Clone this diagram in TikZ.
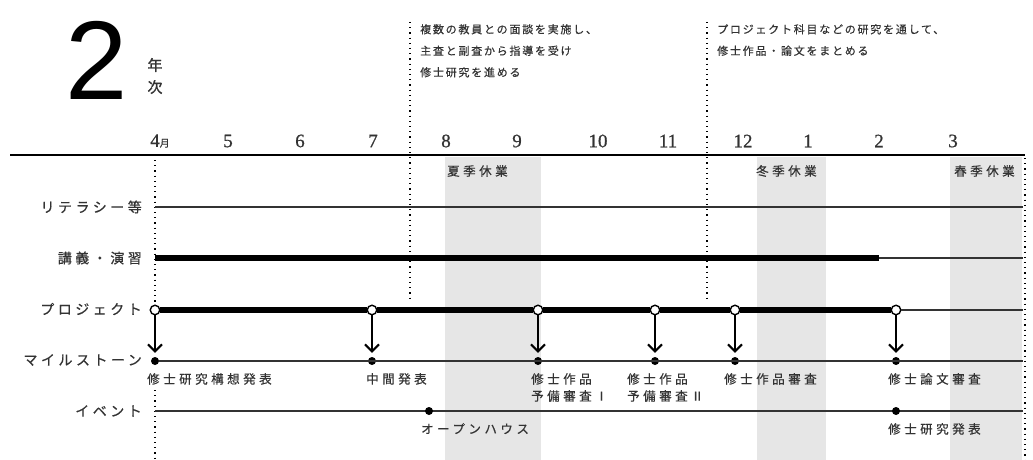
\documentclass[tikz,border=0pt]{standalone}
\usepackage{fontspec}
\setmainfont{Liberation Serif}
\newfontfamily\jp[FakeBold=1.5]{Noto Sans CJK JP}
\newfontfamily\jpm[FakeBold=0.6]{Noto Sans CJK JP}
\newfontfamily\jprow[LetterSpace=25,FakeBold=0.6]{Noto Sans CJK JP}
\newfontfamily\jpms[LetterSpace=28,FakeBold=0.5]{Noto Sans CJK JP}
\newfontfamily\jptop[LetterSpace=16,FakeBold=0.4]{Noto Sans CJK JP}
\newfontfamily\numf[FakeBold=0.8]{Liberation Serif}
\newfontfamily\bigf{Liberation Sans}
\usetikzlibrary{arrows.meta}
\definecolor{txt}{HTML}{333333}
\definecolor{holgray}{HTML}{E6E6E6}
\definecolor{ln}{HTML}{333333}
\tikzset{
  rowlabel/.style={anchor=east, inner sep=0pt, text=txt, font={\fontsize{14}{16}\selectfont\jprow}},
  mslabel/.style={anchor=north west, inner sep=0pt, align=left, text=txt, font={\fontsize{12.5}{17}\selectfont\jpms}},
  toplabel/.style={anchor=north west, inner sep=0pt, align=left, text=txt, font={\fontsize{11}{21.5}\selectfont\jptop}},
  month/.style={inner sep=0pt, text=txt, font={\fontsize{19}{21}\selectfont\numf}},
  holiday/.style={anchor=west, inner sep=0pt, text=txt, font={\fontsize{12.5}{14}\selectfont\jpms}},
  thinrow/.style={line width=1.3pt, draw=ln},
  thickrow/.style={line width=5.5pt, draw=black},
  sep/.style={line width=1.2pt, dash pattern=on 1.2pt off 4pt, draw=black},
  pcircle/.style={circle, draw=black, fill=white, line width=1.4pt, minimum size=9.5pt, inner sep=0pt},
  mdot/.style={circle, fill=black, minimum size=8pt, inner sep=0pt},
  down/.style={line width=2pt, -{Straight Barb[length=7pt,width=14pt,line width=2pt]}},
}
\begin{document}
\begin{tikzpicture}[x=1pt,y=-1pt]
\useasboundingbox (0,0) rectangle (1033,460);
% holiday shading
\fill[holgray] (445,157) rectangle (541,460);
\fill[holgray] (757,157) rectangle (826,460);
\fill[holgray] (950,157) rectangle (1022,460);
% title
\node[inner sep=0pt, anchor=center, text=black, font={\fontsize{112}{112}\selectfont\bigf}] (two) at (97,60) {2};
\node[inner sep=0pt, text=txt, align=center, font={\fontsize{15}{22}\selectfont\jp}] (nenji) at (155,76) {年\\次};
% top texts
\node[toplabel] (t1) at (420,24) {複数の教員との面談を実施し、\\主査と副査から指導を受け\\修士研究を進める};
\node[toplabel] (t2) at (717,24) {プロジェクト科目などの研究を通して、\\修士作品・論文をまとめる};
% months
\node[month] (m4) at (160,141) {4{\jpm\fontsize{10}{12}\selectfont 月}};
\node[month] (m5) at (228,141) {5};
\node[month] (m6) at (300,141) {6};
\node[month] (m7) at (373,141) {7};
\node[month] (m8) at (446,141) {8};
\node[month] (m9) at (517,141) {9};
\node[month] (m10) at (598,141) {10};
\node[month] (m11) at (668,141) {11};
\node[month] (m12) at (743,141) {12};
\node[month] (m1) at (808,141) {1};
\node[month] (m2) at (879,141) {2};
\node[month] (m3) at (953,141) {3};
% header line
\coordinate (hl) at (10,155);
\coordinate (hr) at (1025,155);
\draw[line width=1.5pt, black] (hl) -- (hr);
% dotted separators
\coordinate (s1a) at (155,160); \coordinate (s1b) at (155,304);
\coordinate (s1c) at (155,390); \coordinate (s1d) at (155,460);
\draw[sep] (s1a) -- (s1b);
\draw[sep] (s1c) -- (s1d);
\coordinate (s2a) at (410,22); \coordinate (s2b) at (410,302);
\draw[sep] (s2a) -- (s2b);
\coordinate (s3a) at (707,22); \coordinate (s3b) at (707,302);
\draw[sep] (s3a) -- (s3b);
\coordinate (s4a) at (1025,158); \coordinate (s4b) at (1025,460);
\draw[sep] (s4a) -- (s4b);
% holiday labels
\node[holiday] (h1) at (447,171) {夏季休業};
\node[holiday] (h2) at (756,171) {冬季休業};
\node[holiday] (h3) at (954,171) {春季休業};
% row labels
\node[rowlabel] (r1) at (142,207) {リテラシー等};
\node[rowlabel] (r2) at (142,258) {講義・演習};
\node[rowlabel] (r3) at (142,309) {プロジェクト};
\node[rowlabel] (r4) at (142,360) {マイルストーン};
\node[rowlabel] (r5) at (142,411) {イベント};
% row 1
\coordinate (a1) at (155,207); \coordinate (a2) at (1023,207);
\draw[thinrow] (a1) -- (a2);
% row 2
\coordinate (b1) at (155,258); \coordinate (b2) at (879,258); \coordinate (b3) at (1023,258);
\draw[thinrow] (b2) -- (b3);
\draw[thickrow] (b1) -- (b2);
% row 3 project
\coordinate (c0) at (1023,310);
\node[pcircle] (p1) at (155,310) {};
\node[pcircle] (p2) at (372,310) {};
\node[pcircle] (p3) at (538,310) {};
\node[pcircle] (p4) at (655,310) {};
\node[pcircle] (p5) at (735,310) {};
\node[pcircle] (p6) at (896,310) {};
\draw[thinrow] (p6) -- (c0);
\draw[thickrow] (p1) -- (p2);
\draw[thickrow] (p2) -- (p3);
\draw[thickrow] (p3) -- (p4);
\draw[thickrow] (p4) -- (p5);
\draw[thickrow] (p5) -- (p6);
% row 4 milestones
\coordinate (d0) at (1023,361);
\node[mdot] (q1) at (155,361) {};
\node[mdot] (q2) at (372,361) {};
\node[mdot] (q3) at (538,361) {};
\node[mdot] (q4) at (655,361) {};
\node[mdot] (q5) at (735,361) {};
\node[mdot] (q6) at (896,361) {};
\draw[thinrow] (q1) -- (d0);
\foreach \i in {1,...,6} {\draw[down] (p\i.south) -- ([yshift=4pt]q\i.north);}
% milestone labels
\node[mslabel] (l1) at (147,373) {修士研究構想発表};
\node[mslabel] (l2) at (366,373) {中間発表};
\node[mslabel] (l3) at (531,373) {修士作品\\予備審査Ⅰ};
\node[mslabel] (l4) at (627,373) {修士作品\\予備審査Ⅱ};
\node[mslabel] (l5) at (724,373) {修士作品審査};
\node[mslabel] (l6) at (888,373) {修士論文審査};
% row 5 events
\coordinate (f1) at (155,411); \coordinate (f0) at (1023,411);
\draw[thinrow] (f1) -- (f0);
\node[mdot] (e1) at (429,411) {};
\node[mdot] (e2) at (896,411) {};
\node[mslabel] (le1) at (421,423) {オープンハウス};
\node[mslabel] (le2) at (888,423) {修士研究発表};
\end{tikzpicture}
\end{document}
